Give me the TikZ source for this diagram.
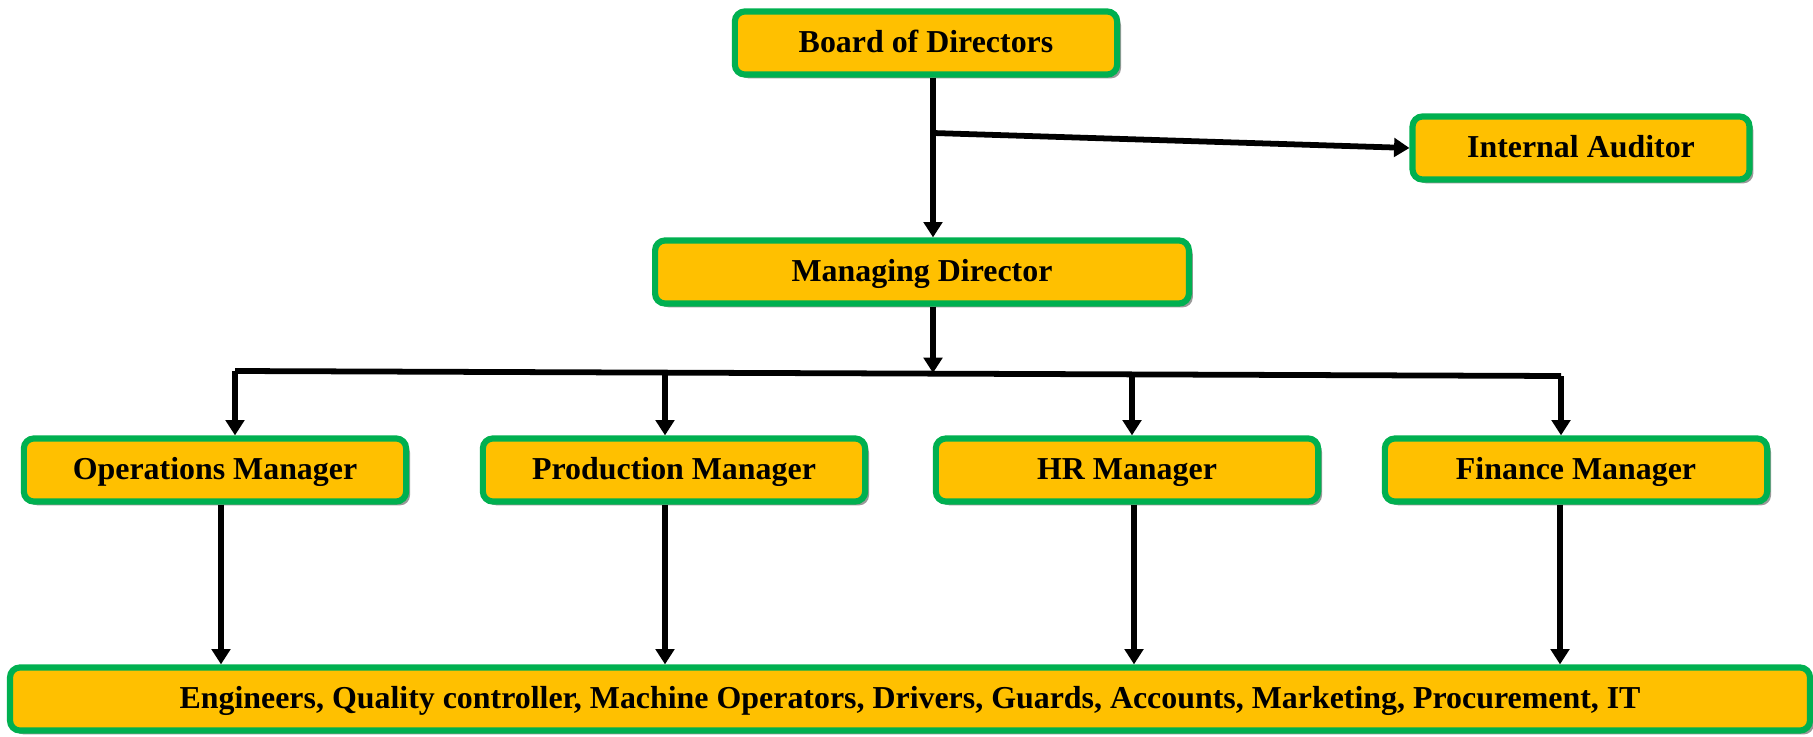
\documentclass[tikz,border=0pt]{standalone}
\usepackage{fontspec}
\setmainfont{Liberation Serif}
\usetikzlibrary{shadows}
\usetikzlibrary{arrows.meta}
\definecolor{boxfill}{HTML}{FFC000}
\definecolor{boxline}{HTML}{00B050}
\tikzset{office/.style={rectangle, rounded corners=1.3mm, fill=boxfill, draw=boxline,
line width=0.8mm, minimum height=8.2mm, inner sep=0pt, text height=1.5ex, text depth=0pt,
font=\fontsize{11.8}{14}\selectfont\bfseries,
drop shadow={shadow xshift=0.5mm, shadow yshift=-0.5mm, fill=black!40, opacity=1}},
wide/.style={office, minimum width=49.7mm},
link/.style={line width=0.75mm},
>={Triangle[length=2mm,width=2.4mm]}}

\begin{document}
\begin{tikzpicture}[x=0.13mm, y=-0.13mm]
  \useasboundingbox (0,0) rectangle (1813,736);
  % top of the chart
  \node (board) [wide] at (926,43) {Board of Directors};
  \node (auditor) [office, minimum width=43.8mm] at (1581,148) {Internal Auditor};
  \node (md) [office, minimum width=69.4mm] at (922,272) {Managing Director};
  % managers row
  \node (ops) [wide] at (215,470) {Operations Manager};
  \node (prod) [wide] at (674,470) {Production Manager};
  \node (hr) [wide] at (1127,470) {HR Manager};
  \node (fin) [wide] at (1576,470) {Finance Manager};
  % staff
  \node (staff) [office, minimum width=234mm] at (910,699)
    {Engineers, Quality controller, Machine Operators, Drivers, Guards, Accounts, Marketing, Procurement, IT};

  \coordinate (split) at (933,133);
  \coordinate (bus) at (933,373);
  \coordinate (b1) at (235,371);
  \coordinate (b4) at (1561,376);
  \draw [link,->] (board.south -| split) -- (md.north -| split);
  \draw [link,->] (split) -- (auditor.west);
  \draw [link,->] (md.south -| bus) -- (bus);
  \draw [link] (b1) -- (b4);
  \foreach \m/\x/\y in {ops/235/371, prod/665/372, hr/1132/375, fin/1561/376}
    \draw [link,->] (\x,\y) -- (\m.north -| \x,0);
  \foreach \m/\x in {ops/221, prod/665, hr/1134, fin/1560}
    \draw [link,->] (\m.south -| \x,0) -- (staff.north -| \x,0);
\end{tikzpicture}
\end{document}
